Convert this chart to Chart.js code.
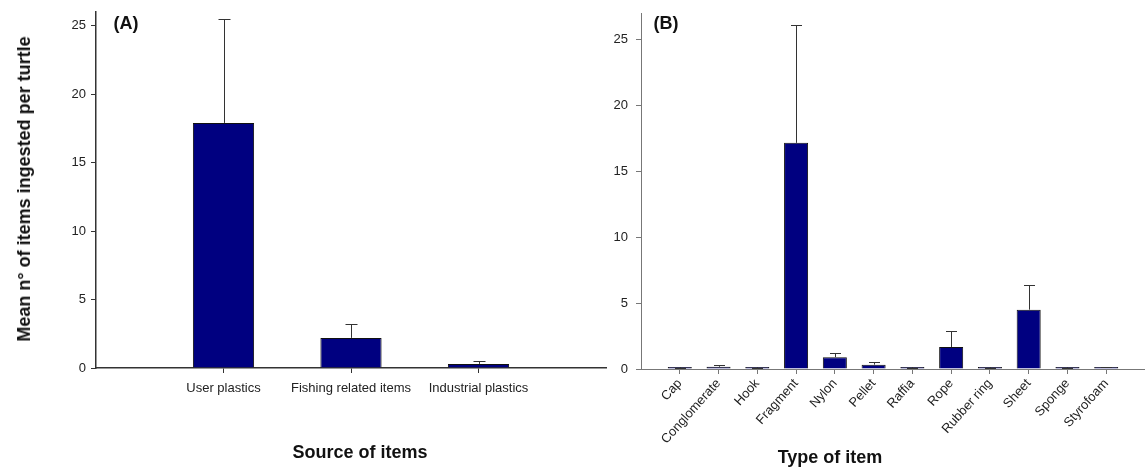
<!DOCTYPE html>
<html>
<head>
<meta charset="utf-8">
<script src="https://cdn.jsdelivr.net/npm/chart.js@4"></script>
<style>
  body { margin: 0; background: #fff; }
  #wrap { position: relative; width: 1145px; height: 468px; overflow: hidden; font-family: "Liberation Sans", Arial, sans-serif; color: #111; }
  canvas { position: absolute; top: 0; }
  .txt { position: absolute; font-weight: bold; white-space: nowrap; line-height: 1; transform: translate(-50%, -50%); }
</style>
</head>
<body>
<div id="wrap">
  <canvas id="chartA" width="610" height="468" style="left:0"></canvas>
  <canvas id="chartB" width="545" height="468" style="left:600px"></canvas>
  <div class="txt" style="left:24px; top:189px; font-size:18px; transform: translate(-50%, -50%) rotate(-90deg);">Mean n° of items ingested per turtle</div>
  <div class="txt" style="left:126px; top:23px; font-size:18px;">(A)</div>
  <div class="txt" style="left:666px; top:23px; font-size:18px;">(B)</div>
  <div class="txt" style="left:360px; top:452px; font-size:18px;">Source of items</div>
  <div class="txt" style="left:830px; top:457px; font-size:18px;">Type of item</div>
</div>
<script>
// Panel A: source of items
const sourceLabels = ['User plastics', 'Fishing related items', 'Industrial plastics'];
const sourceMeans = [17.9, 2.2, 0.3];
const sourceErrors = [7.6, 1.05, 0.2];

// Panel B: type of item
const typeLabels = ['Cap', 'Conglomerate', 'Hook', 'Fragment', 'Nylon', 'Pellet', 'Raffia', 'Rope', 'Rubber ring', 'Sheet', 'Sponge', 'Styrofoam'];
const typeMeans = [0.04, 0.17, 0.04, 17.15, 0.9, 0.33, 0.04, 1.67, 0.04, 4.5, 0.04, 0.1];
const typeErrors = [0.04, 0.11, 0.04, 8.95, 0.28, 0.23, 0.04, 1.21, 0.04, 1.84, 0.04, 0.05];

const yTicks = [0, 5, 10, 15, 20, 25];

// empty slot at each end so the x axis runs past the first and last bar
const pad = arr => ['', ...arr, ''];
const padData = arr => [null, ...arr, null];

// upward error bars with a cap
const errorBars = {
  id: 'errorBars',
  afterDatasetsDraw(chart, args, opts) {
    const meta = chart.getDatasetMeta(0);
    const y = chart.scales.y;
    const ctx = chart.ctx;
    const data = chart.data.datasets[0].data;
    ctx.save();
    ctx.strokeStyle = opts.color;
    ctx.lineWidth = 1;
    opts.errors.forEach((e, i) => {
      const bar = meta.data[i + 1];
      const x = Math.round(bar.x) + 0.5;
      const top = Math.round(y.getPixelForValue(data[i + 1] + e)) + 0.5;
      ctx.beginPath();
      ctx.moveTo(x, bar.y);
      ctx.lineTo(x, top);
      ctx.moveTo(x - opts.cap, top);
      ctx.lineTo(x + opts.cap, top);
      ctx.stroke();
    });
    ctx.restore();
  }
};

function makeChart(id, labels, means, errors, cfg) {
  const n = labels.length + 2;
  return new Chart(document.getElementById(id), {
    type: 'bar',
    data: {
      labels: pad(labels),
      datasets: [{
        data: padData(means),
        backgroundColor: '#000080',
        borderColor: '#111',
        borderWidth: 1,
        minBarLength: 2,
        categoryPercentage: 1,
        barPercentage: cfg.barPct
      }]
    },
    options: {
      responsive: false,
      animation: false,
      layout: { padding: { top: cfg.top, right: cfg.right, left: 0, bottom: 0 } },
      plugins: {
        legend: { display: false },
        tooltip: { enabled: false },
        errorBars: { errors: errors, cap: cfg.cap, color: '#333' }
      },
      scales: {
        x: {
          offset: false,
          afterFit: s => { s.height = cfg.xHeight; s.paddingLeft = 0; s.paddingRight = 0; },
          border: { color: cfg.axisColor, width: cfg.axisWidth },
          grid: {
            offset: false,
            drawOnChartArea: false,
            tickLength: 5,
            color: c => (c.index === 0 || c.index === n - 1) ? 'rgba(0,0,0,0)' : cfg.axisColor
          },
          ticks: {
            autoSkip: false,
            minRotation: cfg.rot,
            maxRotation: cfg.rot,
            padding: cfg.xPad,
            color: '#222',
            font: { family: 'Liberation Sans', size: 13 }
          }
        },
        y: {
          min: 0,
          max: cfg.yMax,
          afterFit: s => { s.width = cfg.yWidth; s.paddingTop = 0; s.paddingBottom = 0; },
          afterBuildTicks: s => { s.ticks = yTicks.map(v => ({ value: v })); },
          border: { color: cfg.axisColor, width: cfg.axisWidth },
          grid: { drawOnChartArea: false, tickLength: 5, color: cfg.axisColor },
          ticks: {
            padding: cfg.yPad,
            color: '#222',
            font: { family: 'Liberation Sans', size: 13 }
          }
        }
      }
    },
    plugins: [errorBars]
  });
}

makeChart('chartA', sourceLabels, sourceMeans, sourceErrors, {
  barPct: 0.48, cap: 6, top: 12, right: 4, xHeight: 100, yWidth: 96,
  yMax: 26, rot: 0, xPad: 8, yPad: 5, axisColor: '#333', axisWidth: 1.5
});

makeChart('chartB', typeLabels, typeMeans, typeErrors, {
  barPct: 0.62, cap: 5.5, top: 13, right: 0, xHeight: 99, yWidth: 41,
  yMax: 27, rot: 48, xPad: 2, yPad: 8, axisColor: '#777', axisWidth: 1
});
</script>
</body>
</html>
